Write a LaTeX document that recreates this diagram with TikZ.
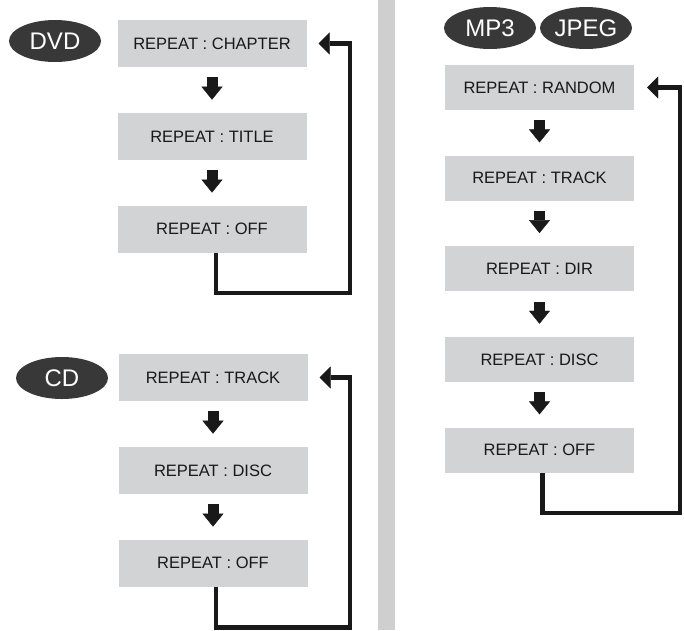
\documentclass[tikz,border=0pt]{standalone}
\usepackage{fontspec}
\setmainfont{Liberation Sans}
\usepackage{xcolor}
\usetikzlibrary{arrows.meta,positioning,shapes.geometric}

\definecolor{boxgray}{HTML}{D2D3D5}
\definecolor{badgegray}{HTML}{383838}
\definecolor{divgray}{HTML}{CFCFCF}

\begin{document}
\begin{tikzpicture}[x=1pt, y=-1pt,
  rep/.style   = {fill=boxgray, minimum width=189pt, minimum height=47pt,
                  inner sep=0pt, text=black!90,
                  font=\fontsize{16.5}{18}\selectfont},
  badge/.style = {ellipse, fill=badgegray, text=white, minimum width=92pt,
                  minimum height=42pt, inner sep=0pt,
                  font=\fontsize{24}{26}\selectfont},
  nxt/.style   = {draw=black!90, line width=11pt,
                  -{Triangle[width=21pt, length=13pt, line width=0.4pt]},
                  shorten <=10pt, shorten >=13pt},
  back/.style  = {draw=black!90, line width=4.5pt,
                  -{Triangle[width=22pt, length=11pt, line width=0.4pt]}},
]
\useasboundingbox (0,0) rectangle (684,630);

% divider
\fill[divgray] (378,0) rectangle (395,630);

% DVD
\node[badge] (dvd) at (55,41) {DVD};
\node[rep] (dvdch) at (212,43.5) {REPEAT : CHAPTER};
\node[rep, below=45.5pt of dvdch] (dvdti) {REPEAT : TITLE};
\node[rep, below=45.5pt of dvdti] (dvdoff) {REPEAT : OFF};
\coordinate (dvdturn) at (350,293);
\draw[nxt] (dvdch) -- (dvdti);
\draw[nxt] (dvdti) -- (dvdoff);
\draw[back] ([xshift=4pt]dvdoff.south) |- (dvdturn) |- ([xshift=12pt]dvdch.east);

% CD
\node[badge] (cd) at (62,378) {CD};
\node[rep] (cdtr) at (213,377.5) {REPEAT : TRACK};
\node[rep, below=45.5pt of cdtr] (cddi) {REPEAT : DISC};
\node[rep, below=45.5pt of cddi] (cdoff) {REPEAT : OFF};
\coordinate (cdturn) at (350,627.5);
\draw[nxt] (cdtr) -- (cddi);
\draw[nxt] (cddi) -- (cdoff);
\draw[back] ([xshift=3pt]cdoff.south) |- (cdturn) |- ([xshift=12pt]cdtr.east);

% MP3 / JPEG
\node[badge] (mp3) at (490,28) {MP3};
\node[badge] (jpeg) at (586,28) {JPEG};
\node[rep, minimum height=45pt] (mprnd) at (539.5,87.5) {REPEAT : RANDOM};
\node[rep, minimum height=45pt, below=45.25pt of mprnd] (mptr) {REPEAT : TRACK};
\node[rep, minimum height=45pt, below=45.25pt of mptr] (mpdir) {REPEAT : DIR};
\node[rep, minimum height=45pt, below=45.25pt of mpdir] (mpdisc) {REPEAT : DISC};
\node[rep, minimum height=45pt, below=45.25pt of mpdisc] (mpoff) {REPEAT : OFF};
\coordinate (mpturn) at (680,513);
\draw[nxt] (mprnd) -- (mptr);
\draw[nxt] (mptr) -- (mpdir);
\draw[nxt] (mpdir) -- (mpdisc);
\draw[nxt] (mpdisc) -- (mpoff);
\draw[back] ([xshift=3pt]mpoff.south) |- (mpturn) |- ([xshift=13pt]mprnd.east);

\end{tikzpicture}
\end{document}
